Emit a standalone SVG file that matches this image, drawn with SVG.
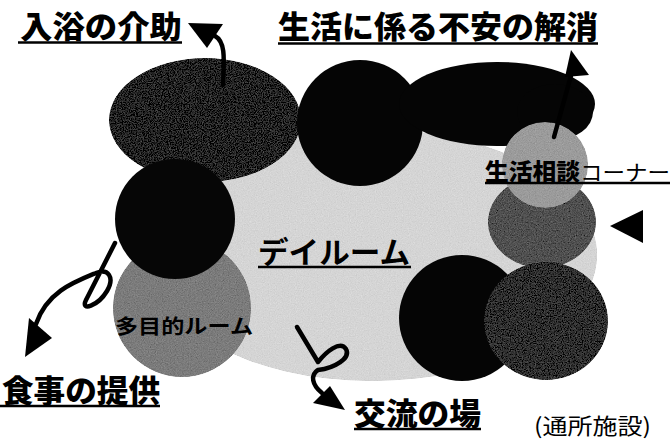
<svg xmlns="http://www.w3.org/2000/svg" width="672" height="439" viewBox="0 0 672 439">
<defs>
<filter id="grain" x="0" y="0" width="100%" height="100%">
<feTurbulence type="fractalNoise" baseFrequency="0.85" numOctaves="2" seed="7" result="t"/>
<feColorMatrix in="t" type="matrix" values="0.33 0.33 0.33 0 0  0.33 0.33 0.33 0 0  0.33 0.33 0.33 0 0  0 0 0 0 1" result="g"/>
<feComposite in="SourceGraphic" in2="g" operator="arithmetic" k1="0" k2="1" k3="0.35" k4="-0.17" result="m"/>
<feComposite in="m" in2="SourceAlpha" operator="in"/>
</filter>
</defs>
<style>
.h{font-family:"Noto Sans CJK JP","Noto Sans",sans-serif;font-weight:900;fill:#000}
.n{font-family:"Noto Sans CJK JP","Noto Sans",sans-serif;font-weight:400;fill:#000}
.m{font-family:"Noto Sans CJK JP","Noto Sans",sans-serif;font-weight:700;fill:#000}
.ul{stroke:#000;stroke-width:2.5}
.ar{fill:none;stroke:#000;stroke-width:4.5;stroke-linecap:round;stroke-linejoin:round}
.hd{fill:#000}
.g{filter:url(#grain)}
</style>
<rect width="672" height="439" fill="#fff"/>
<g id="dayroom-area"><ellipse class="g" cx="372" cy="255" rx="225" ry="126" fill="#d4d4d4"/></g>
<g id="bath-room"><ellipse class="g" cx="205" cy="120" rx="96" ry="62" fill="#1e1e1e"/></g>
<g id="multi-room"><circle class="g" cx="182" cy="308" r="69" fill="#7a7a7a"/><text class="m" x="115" y="334" font-size="20" textLength="138" lengthAdjust="spacingAndGlyphs" fill="#111">多目的ルーム</text></g>
<g id="dining"><circle cx="175" cy="219" r="60" fill="#060606"/></g>
<g id="top-circle"><circle cx="360" cy="123" r="63" fill="#050505"/></g>
<g id="top-ellipse"><ellipse cx="497" cy="104" rx="98" ry="42" fill="#050505"/><ellipse cx="555" cy="112" rx="38" ry="28" fill="#050505"/></g>
<g id="support"><ellipse class="g" cx="542" cy="222" rx="54" ry="46" fill="#4e4e4e"/></g>
<g id="consult"><circle class="g" cx="545" cy="165" r="43" fill="#9a9a9a"/></g>
<g id="bottom-black"><circle cx="462" cy="318" r="63" fill="#050505"/></g>
<g id="bottom-gray"><ellipse class="g" cx="546" cy="321" rx="62" ry="59" fill="#2b2b2b"/></g>
<g id="labels">
<text class="h" x="20" y="38" font-size="31" textLength="162" lengthAdjust="spacingAndGlyphs">入浴の介助</text>
<line class="ul" x1="18" y1="42.5" x2="182" y2="42.5"/>
<text class="h" x="278" y="38" font-size="31" textLength="320" lengthAdjust="spacingAndGlyphs">生活に係る不安の解消</text>
<line class="ul" x1="278" y1="43.5" x2="598" y2="43.5"/>
<text class="h" x="2" y="402" font-size="31" textLength="158" lengthAdjust="spacingAndGlyphs">食事の提供</text>
<line class="ul" x1="0" y1="406" x2="160" y2="406"/>
<text class="h" x="354" y="425" font-size="31" textLength="127" lengthAdjust="spacingAndGlyphs">交流の場</text>
<line class="ul" x1="354" y1="429" x2="481" y2="429"/>
<text class="m" x="258" y="263" font-size="30" textLength="152" lengthAdjust="spacingAndGlyphs">デイルーム</text>
<line class="ul" x1="258" y1="267" x2="411" y2="267"/>
<text class="h" x="485" y="180" font-size="23" textLength="95" lengthAdjust="spacingAndGlyphs">生活相談</text>
<text class="n" x="580" y="180" font-size="21" textLength="90" lengthAdjust="spacingAndGlyphs">コーナー</text>
<line class="ul" x1="485" y1="183" x2="670" y2="183"/>
<text class="n" x="534" y="434" font-size="22" textLength="117" lengthAdjust="spacingAndGlyphs">(通所施設)</text>
</g>
<g id="connectors">
<path class="ar" d="M223,85 C224,60 226,42 215,36"/>
<polygon class="hd" points="188,23 223,24 207,48"/>
<path class="ar" d="M554,137 L572,72"/>
<polygon class="hd" points="571,50 589,75 565,77"/>
<path class="ar" d="M115,243 L86,300 C80,312 98,306 107,291 C115,277 108,268 96,273 C74,282 47,292 36,324"/>
<polygon class="hd" points="25,357 29,318 52,338"/>
<path class="ar" d="M297,327 L318,362 C326,352 340,340 346,349 C351,358 335,368 318,370 C310,375 312,385 322,393"/>
<polygon class="hd" points="313,403 330,386 345,410"/>
<polygon class="hd" points="610,226 643,210 643,243"/>
</g>
</svg>
